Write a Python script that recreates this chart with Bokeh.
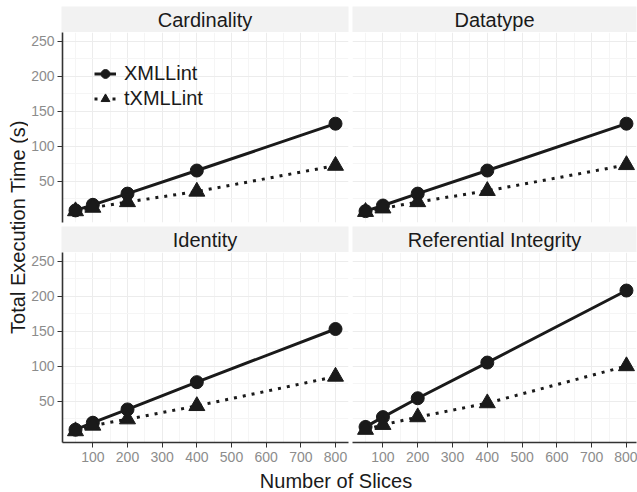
import math
from bokeh.plotting import figure
from bokeh.models import Label, FixedTicker, Range1d, Legend, LegendItem
from bokeh.layouts import row, column
from bokeh.embed import file_html
from bokeh.resources import INLINE

# ---- data ----
slices = [50, 100, 200, 400, 800]
panels = ["Cardinality", "Datatype", "Identity", "Referential Integrity"]
xmllint = {
    "Cardinality": [8, 16, 32, 65, 132],
    "Datatype": [7, 15, 32, 65, 132],
    "Identity": [9, 19, 38, 77, 153],
    "Referential Integrity": [13, 27, 54, 105, 208],
}
txmllint = {
    "Cardinality": [7, 12, 20, 35, 72],
    "Datatype": [6, 11, 20, 36, 73],
    "Identity": [7, 15, 24, 43, 85],
    "Referential Integrity": [9, 16, 27, 47, 100],
}
x_breaks = [100, 200, 300, 400, 500, 600, 700, 800]
x_minor = [50, 150, 250, 350, 450, 550, 650, 750]
y_breaks = [50, 100, 150, 200, 250]
y_minor = [25, 75, 125, 175, 225]
series_labels = ["XMLLint", "tXMLLint"]
x_title = "Number of Slices"
y_title = "Total Execution Time (s)"

FONT = "Liberation Sans"
INK = "#1a1a1a"
STRIP_BG = "#f2f2f2"
TICK_TXT = "#8c8c8c"
LEFT_B = 33          # space for y tick labels
L_FW, R_FW = 287, 284
L_RB, R_RB = 4, 1    # right borders
YT_W = 28
FH = 190
X0, X1 = 12.5, 837.5
SCALE = L_FW / (X1 - X0)
X1_R = X0 + R_FW / SCALE
Y0, Y1 = -9.3, 262.4


def base_fig(**kw):
    return figure(output_backend="svg", toolbar_location=None, min_border=0,
                  outline_line_color=None, border_fill_color="white", **kw)


def make_strip(name, left, top):
    fw = L_FW if left else R_FW
    lb = LEFT_B if left else 0
    rb = L_RB if left else R_RB
    tb = 6 if top else 0
    s = base_fig(width=lb + fw + rb, height=26 + tb,
                 x_range=Range1d(0, 1), y_range=Range1d(0, 1),
                 x_axis_location=None, y_axis_location=None,
                 background_fill_color=STRIP_BG,
                 min_border_left=lb, min_border_right=rb, min_border_top=tb)
    s.grid.visible = False
    s.add_layout(Label(x=0.5, y=0.5, text=name, text_align="center",
                       text_baseline="middle", text_font_size="20px",
                       text_font=FONT, text_color=INK))
    return s


def make_panel(name, left, bottom, legend):
    fw = L_FW if left else R_FW
    lb = LEFT_B if left else 0
    rb = L_RB if left else R_RB
    bb = 26 if bottom else 4
    p = base_fig(width=lb + fw + rb, height=FH + bb,
                 x_range=Range1d(X0, X1 if left else X1_R), y_range=Range1d(Y0, Y1),
                 x_axis_location="below" if bottom else None,
                 y_axis_location="left" if left else None,
                 min_border_left=lb, min_border_right=rb, min_border_bottom=bb,
                 background_fill_color="white")
    xt = FixedTicker(ticks=x_breaks, minor_ticks=x_minor)
    yt = FixedTicker(ticks=y_breaks, minor_ticks=y_minor)
    p.xgrid.ticker = xt
    p.ygrid.ticker = yt
    for g in (p.xgrid, p.ygrid):
        g.grid_line_color = "#ececec"
        g.grid_line_width = 1
        g.minor_grid_line_color = "#f5f5f5"
        g.minor_grid_line_width = 1
    axes = []
    if bottom:
        p.xaxis.ticker = xt
        axes.append(p.xaxis)
    if left:
        p.yaxis.ticker = yt
        axes.append(p.yaxis)
    for ax in axes:
        ax.axis_line_color = "#333333"
        ax.axis_line_width = 1.6
        ax.major_tick_line_color = "#333333"
        ax.major_tick_line_width = 1
        ax.major_tick_in = 0
        ax.major_tick_out = 5
        ax.minor_tick_line_color = None
        ax.major_label_text_font = FONT
        ax.major_label_text_font_size = "14px"
        ax.major_label_text_color = TICK_TXT
    if bottom:
        p.xaxis.major_label_standoff = 4
    if left:
        p.yaxis.major_label_standoff = 3

    l1 = p.line(slices, xmllint[name], line_color=INK, line_width=3)
    s1 = p.scatter(slices, xmllint[name], marker="circle", size=13,
                   fill_color=INK, line_color=INK)
    l2 = p.line(slices, txmllint[name], line_color=INK, line_width=3,
                line_dash="3 6")
    s2 = p.scatter(slices, txmllint[name], marker="triangle", size=16,
                   fill_color=INK, line_color=INK)
    if legend:
        lg = Legend(items=[LegendItem(label=series_labels[0], renderers=[l1, s1]),
                           LegendItem(label=series_labels[1], renderers=[l2, s2])],
                    location=(32, 112), padding=0, margin=0, spacing=2,
                    glyph_width=22, glyph_height=23, label_height=23,
                    label_standoff=8, border_line_color=None,
                    background_fill_alpha=0,
                    label_text_font=FONT, label_text_font_size="20px",
                    label_text_color=INK)
        p.add_layout(lg)
    return p


strip_tl = make_strip(panels[0], True, True)
strip_tr = make_strip(panels[1], False, True)
strip_bl = make_strip(panels[2], True, False)
strip_br = make_strip(panels[3], False, False)
p_tl = make_panel(panels[0], True, False, True)
p_tr = make_panel(panels[1], False, False, False)
p_bl = make_panel(panels[2], True, True, False)
p_br = make_panel(panels[3], False, True, False)

col_w = (LEFT_B + L_FW + L_RB) + (R_FW + R_RB)
xt_fig = base_fig(width=col_w, height=24, x_range=Range1d(0, 1), y_range=Range1d(0, 1),
                  x_axis_location=None, y_axis_location=None)
xt_fig.grid.visible = False
xt_fig.add_layout(Label(x=(335.5 - YT_W) / col_w, y=0.48, text=x_title,
                        text_align="center", text_baseline="middle",
                        text_font_size="20px", text_font=FONT, text_color=INK))

yt_fig = base_fig(width=YT_W, height=492, x_range=Range1d(0, 1), y_range=Range1d(0, 1),
                  x_axis_location=None, y_axis_location=None)
yt_fig.grid.visible = False
yt_fig.add_layout(Label(x=17 / YT_W, y=(492 - 226.5) / 492, text=y_title,
                        angle=math.pi / 2, text_align="center", text_baseline="middle",
                        text_font_size="20px", text_font=FONT, text_color=INK))

grid_col = column(row(strip_tl, strip_tr), row(p_tl, p_tr),
                  row(strip_bl, strip_br), row(p_bl, p_br), xt_fig)
layout = row(yt_fig, grid_col)

open("out.html", "w").write(file_html(layout, INLINE))
